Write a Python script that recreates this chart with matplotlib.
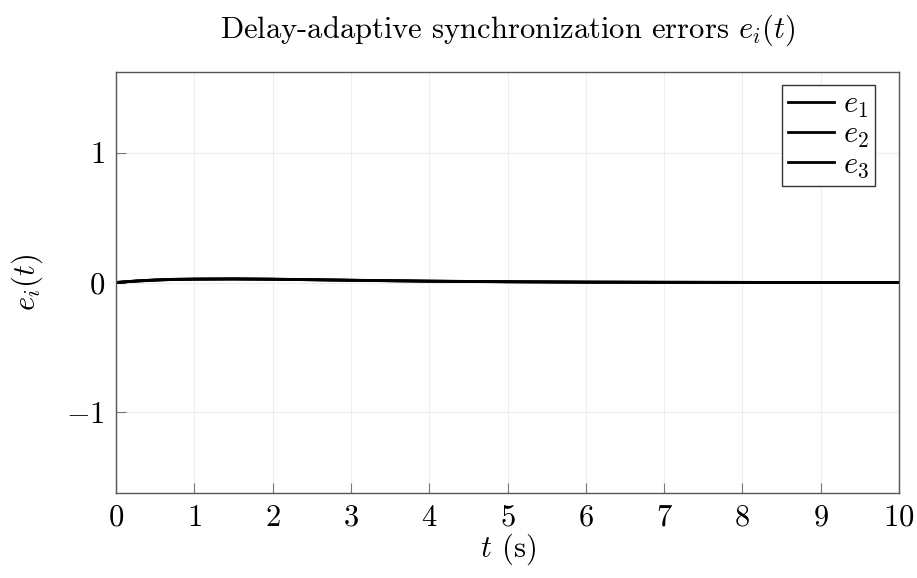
import matplotlib
matplotlib.use('Agg')
import matplotlib.pyplot as plt
import numpy as np

plt.rcParams['font.family'] = 'serif'
plt.rcParams['font.serif'] = ['cmr10']
plt.rcParams['mathtext.fontset'] = 'cm'
plt.rcParams['axes.formatter.use_mathtext'] = True

# values (all three errors overlap)
t = [0, 0.25, 0.5, 0.75, 1.0, 1.5, 2.0, 2.5, 3.0, 3.5, 4.0, 5.0, 6.0, 7.0, 8.0, 9.0, 10.0]
e1 = [0.0, 0.012, 0.020, 0.025, 0.027, 0.028, 0.026, 0.022, 0.018, 0.014, 0.011, 0.006, 0.003, 0.002, 0.001, 0.0, 0.0]
e2 = [0.0, 0.010, 0.018, 0.023, 0.025, 0.027, 0.025, 0.021, 0.017, 0.013, 0.010, 0.006, 0.003, 0.001, 0.001, 0.0, 0.0]
e3 = [0.0, 0.011, 0.019, 0.024, 0.026, 0.027, 0.025, 0.021, 0.017, 0.014, 0.010, 0.005, 0.003, 0.002, 0.001, 0.0, 0.0]
labels = ['$e_1$', '$e_2$', '$e_3$']

fig = plt.figure(figsize=(9.17, 5.78), dpi=100)
ax = fig.add_axes([116 / 917, 1 - 493 / 578, 783 / 917, 421 / 578])

for y, lab in zip([e1, e2, e3], labels):
    ax.plot(t, y, color='black', lw=2.0, label=lab)

ax.set_xlim(0, 10)
ax.set_ylim(-1.62, 1.62)
ax.set_xticks(range(0, 11))
ax.set_yticks([-1, 0, 1])
ax.grid(True, color='#eeeeee', lw=0.8)
ax.tick_params(direction='in', length=7, color='#777777', labelsize=22, pad=8)
for s in ax.spines.values():
    s.set_color('#555555')
    s.set_linewidth(1.0)

ax.set_xlabel('$t$ (s)', fontsize=22, labelpad=0)
ax.set_ylabel('$e_i(t)$', fontsize=22, labelpad=15)
ax.set_title('Delay-adaptive synchronization errors $e_i(t)$', fontsize=22, pad=25)

leg = ax.legend(loc='upper right', bbox_to_anchor=(875 / 917, 1 - 85 / 578),
                bbox_transform=fig.transFigure, borderaxespad=0,
                fontsize=22, fancybox=False, framealpha=1,
                edgecolor='#333333', handlelength=1.5, handletextpad=0.3,
                labelspacing=0.05, borderpad=0.2)
leg.get_frame().set_linewidth(1.0)

fig.savefig('out.png', dpi=100)
